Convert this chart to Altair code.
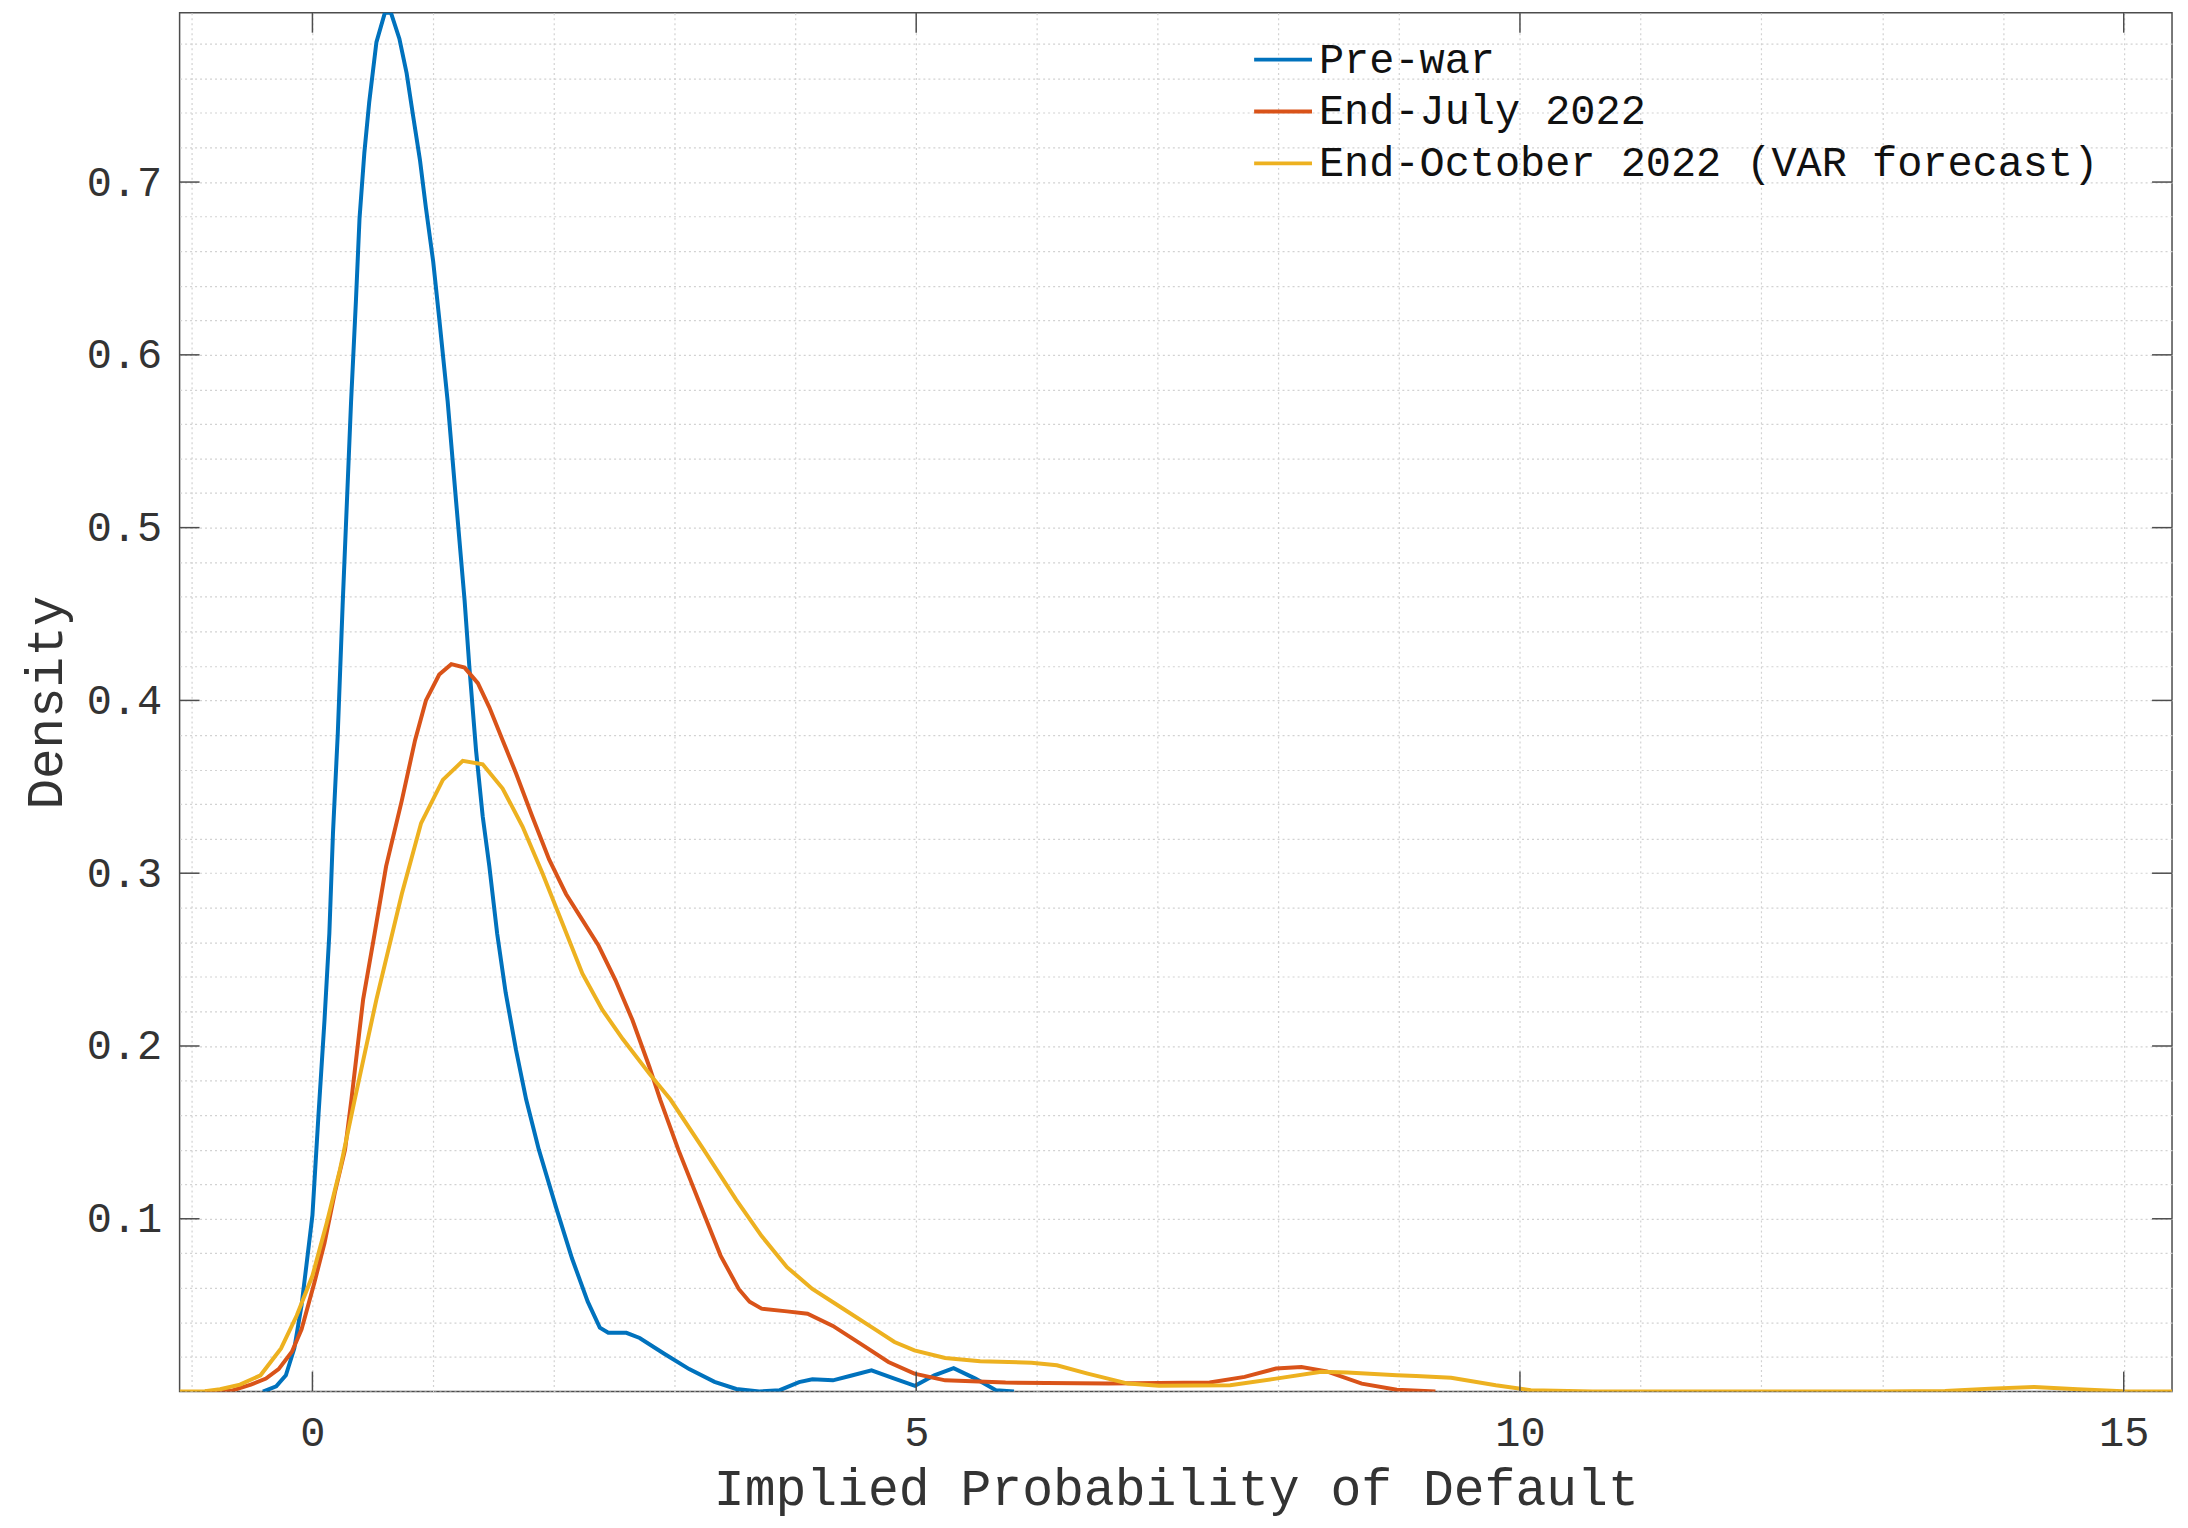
import altair as alt
import pandas as pd

# ---------------- data ----------------
series_names = ["Pre-war", "End-July 2022", "End-October 2022 (VAR forecast)"]
series_colors = ["#0072BD", "#D95319", "#EDB120"]

prewar_x = [-0.41, -0.30, -0.22, -0.15, -0.09, -0.05, 0.0, 0.05, 0.10, 0.14, 0.17, 0.21,
            0.25, 0.32, 0.36, 0.39, 0.43, 0.47, 0.53, 0.60, 0.65, 0.72, 0.78, 0.83, 0.89,
            0.94, 1.00, 1.05, 1.12, 1.19, 1.26, 1.30, 1.355, 1.41, 1.465, 1.53, 1.60, 1.685,
            1.77, 1.875, 2.02, 2.15, 2.28, 2.38, 2.45, 2.60, 2.71, 2.91, 3.12, 3.33, 3.51,
            3.70, 3.87, 4.03, 4.14, 4.31, 4.45, 4.63, 4.82, 4.99, 5.15, 5.31, 5.49, 5.66, 5.81]
prewar_y = [0.0, 0.003, 0.0094, 0.025, 0.050, 0.073, 0.102, 0.160, 0.215, 0.265, 0.323, 0.381,
            0.455, 0.573, 0.631, 0.679, 0.717, 0.746, 0.781, 0.798, 0.798, 0.783, 0.763, 0.740,
            0.713, 0.685, 0.654, 0.621, 0.573, 0.515, 0.458, 0.419, 0.371, 0.333, 0.304, 0.265,
            0.231, 0.198, 0.169, 0.140, 0.106, 0.077, 0.052, 0.037, 0.034, 0.034, 0.031, 0.022,
            0.013, 0.0056, 0.0015, 0.0, 0.0008, 0.0055, 0.0071, 0.0065, 0.009, 0.0123, 0.0075,
            0.0033, 0.0094, 0.0135, 0.0075, 0.0008, 0.0]

july_x = [-0.89, -0.68, -0.51, -0.385, -0.28, -0.17, -0.09, 0.016, 0.10, 0.185, 0.27, 0.323,
          0.42, 0.515, 0.61, 0.74, 0.85, 0.94, 1.05, 1.15, 1.26, 1.37, 1.465, 1.575, 1.685,
          1.82, 1.96, 2.10, 2.235, 2.37, 2.51, 2.65, 2.79, 2.88, 3.03, 3.215, 3.38, 3.53,
          3.62, 3.72, 3.93, 4.10, 4.31, 4.56, 4.77, 4.985, 5.24, 5.74, 6.59, 7.43, 7.72,
          7.98, 8.19, 8.40, 8.69, 8.98, 9.30]
july_y = [0.0, 0.0003, 0.004, 0.0075, 0.013, 0.023, 0.036, 0.063, 0.086, 0.115, 0.140, 0.169,
          0.227, 0.265, 0.304, 0.342, 0.377, 0.400, 0.415, 0.421, 0.419, 0.410, 0.396, 0.377,
          0.358, 0.333, 0.308, 0.288, 0.273, 0.258, 0.238, 0.215, 0.188, 0.169, 0.140, 0.1075,
          0.0787, 0.0594, 0.052, 0.048, 0.0464, 0.045, 0.038, 0.0267, 0.0171, 0.0104, 0.0065,
          0.0052, 0.0046, 0.0052, 0.0085, 0.0133, 0.0142, 0.0117, 0.0046, 0.001, 0.0]

oct_x = [-1.10, -0.89, -0.765, -0.60, -0.43, -0.26, -0.13, 0.0, 0.12, 0.23, 0.35, 0.53, 0.74,
         0.90, 1.08, 1.245, 1.41, 1.575, 1.74, 1.905, 2.07, 2.235, 2.40, 2.57, 2.79, 2.965,
         3.24, 3.51, 3.72, 3.93, 4.14, 4.395, 4.65, 4.82, 4.985, 5.24, 5.53, 5.955, 6.165,
         6.42, 6.755, 7.01, 7.60, 7.98, 8.355, 8.57, 8.98, 9.14, 9.43, 9.80, 10.09, 10.6,
         13.0, 13.52, 13.89, 14.26, 14.62, 14.99, 15.40]
oct_y = [0.0, 0.0002, 0.0013, 0.004, 0.0094, 0.025, 0.044, 0.067, 0.098, 0.129, 0.169, 0.227,
         0.288, 0.329, 0.354, 0.365, 0.363, 0.349, 0.327, 0.300, 0.271, 0.242, 0.221, 0.204,
         0.184, 0.169, 0.140, 0.111, 0.090, 0.072, 0.0594, 0.0479, 0.0364, 0.0287, 0.0238,
         0.0194, 0.0175, 0.0167, 0.0152, 0.0104, 0.0046, 0.0033, 0.0036, 0.0075, 0.0114,
         0.011, 0.0095, 0.009, 0.0080, 0.0036, 0.0008, 0.0, 0.0, 0.0003, 0.0017, 0.0027,
         0.0013, 0.0002, 0.0]

x_major_ticks = [0, 5, 10, 15]
y_major_ticks = [0.1, 0.2, 0.3, 0.4, 0.5, 0.6, 0.7]
x_grid_values = list(range(-1, 16))
y_grid_values = [round(0.02 * k, 2) for k in range(0, 40)]

x_domain = [-1.1, 15.4]
y_domain = [0.0, 0.798]

# ---------------- build table ----------------
rows = []
for name, xs_, ys_ in zip(series_names, [prewar_x, july_x, oct_x], [prewar_y, july_y, oct_y]):
    for i, (a, b) in enumerate(zip(xs_, ys_)):
        rows.append({"series": name, "x": a, "y": b, "i": i})
df = pd.DataFrame(rows)

# ---------------- style ----------------
W, H = 1997, 1382
FONT = "Liberation Mono"
TEXT = "#333333"
AXC = "#4d4d4d"
GRID = "#d2d2d2"
TICK = 20

xs = alt.Scale(domain=x_domain, nice=False, zero=False)
ys = alt.Scale(domain=y_domain, nice=False, zero=False)

x_axis = alt.Axis(
    values=x_grid_values, format="d",
    labelExpr="datum.value % 5 == 0 ? datum.label : ''",
    grid=True, gridColor=GRID, gridDash=[2, 3], gridWidth=1.2, gridOpacity=1,
    ticks=False, domain=False,
    labelFont=FONT, labelFontSize=42, labelColor=TEXT, labelPadding=54,
    labelBaseline="alphabetic", labelFlush=False, labelOverlap=False,
    title="Implied Probability of Default", titleFont=FONT, titleFontSize=51.5,
    titleFontWeight="normal", titleColor=TEXT, titleX=W / 2, titleY=113,
    titleBaseline="alphabetic", titleAlign="center",
)
y_axis = alt.Axis(
    values=y_grid_values,
    labelExpr="(datum.value > 0.05 && abs(datum.value * 10 - round(datum.value * 10)) < 0.001) ? format(datum.value, '.1f') : ''",
    grid=True, gridColor=GRID, gridDash=[2, 3], gridWidth=1.2, gridOpacity=1,
    ticks=False, domain=False,
    labelFont=FONT, labelFontSize=42, labelColor=TEXT, labelPadding=18,
    labelBaseline="middle", labelFlush=False, labelOverlap=False,
    title="Density", titleFont=FONT, titleFontSize=51, titleFontWeight="normal",
    titleColor=TEXT, titleX=-118, titleY=H / 2, titleAngle=270,
    titleBaseline="alphabetic", titleAlign="center",
)

color = alt.Color(
    "series:N",
    scale=alt.Scale(domain=series_names, range=series_colors),
    legend=alt.Legend(
        orient="none", legendX=1075, legendY=16, title=None,
        symbolType="stroke", symbolSize=3364, symbolStrokeWidth=3.8,
        labelFont=FONT, labelFontSize=42, labelColor="#111111", labelOffset=5,
        rowPadding=-17, labelLimit=0,
    ),
)

layers = []
for name in series_names:
    layers.append(
        alt.Chart(df)
        .transform_filter(alt.datum.series == name)
        .mark_line(strokeWidth=4, clip=True)
        .encode(
            x=alt.X("x:Q", scale=xs, axis=x_axis),
            y=alt.Y("y:Q", scale=ys, axis=y_axis),
            color=color,
            order="i:Q",
        )
    )

xt = pd.DataFrame({"t": x_major_ticks})
yt = pd.DataFrame({"t": y_major_ticks})

tick_bottom = alt.Chart(xt).mark_rule(color=AXC, strokeWidth=1.5).encode(
    x=alt.X("t:Q", scale=xs, axis=x_axis), y=alt.value(H), y2=alt.value(H - TICK))
tick_top = alt.Chart(xt).mark_rule(color=AXC, strokeWidth=1.5).encode(
    x=alt.X("t:Q", scale=xs, axis=x_axis), y=alt.value(0), y2=alt.value(TICK))
tick_left = alt.Chart(yt).mark_rule(color=AXC, strokeWidth=1.5).encode(
    y=alt.Y("t:Q", scale=ys, axis=y_axis), x=alt.value(0), x2=alt.value(TICK))
tick_right = alt.Chart(yt).mark_rule(color=AXC, strokeWidth=1.5).encode(
    y=alt.Y("t:Q", scale=ys, axis=y_axis), x=alt.value(W), x2=alt.value(W - TICK))

chart = (
    alt.layer(*layers, tick_bottom, tick_top, tick_left, tick_right)
    .properties(
        width=W, height=H,
        autosize=alt.AutoSizeParams(type="none"),
        padding={"left": 172, "top": 3, "right": 8, "bottom": 132},
        background="white",
    )
    .configure_view(stroke=AXC, strokeWidth=1.5)
)

chart.save("out.html", embed_options={"renderer": "svg", "actions": False})
